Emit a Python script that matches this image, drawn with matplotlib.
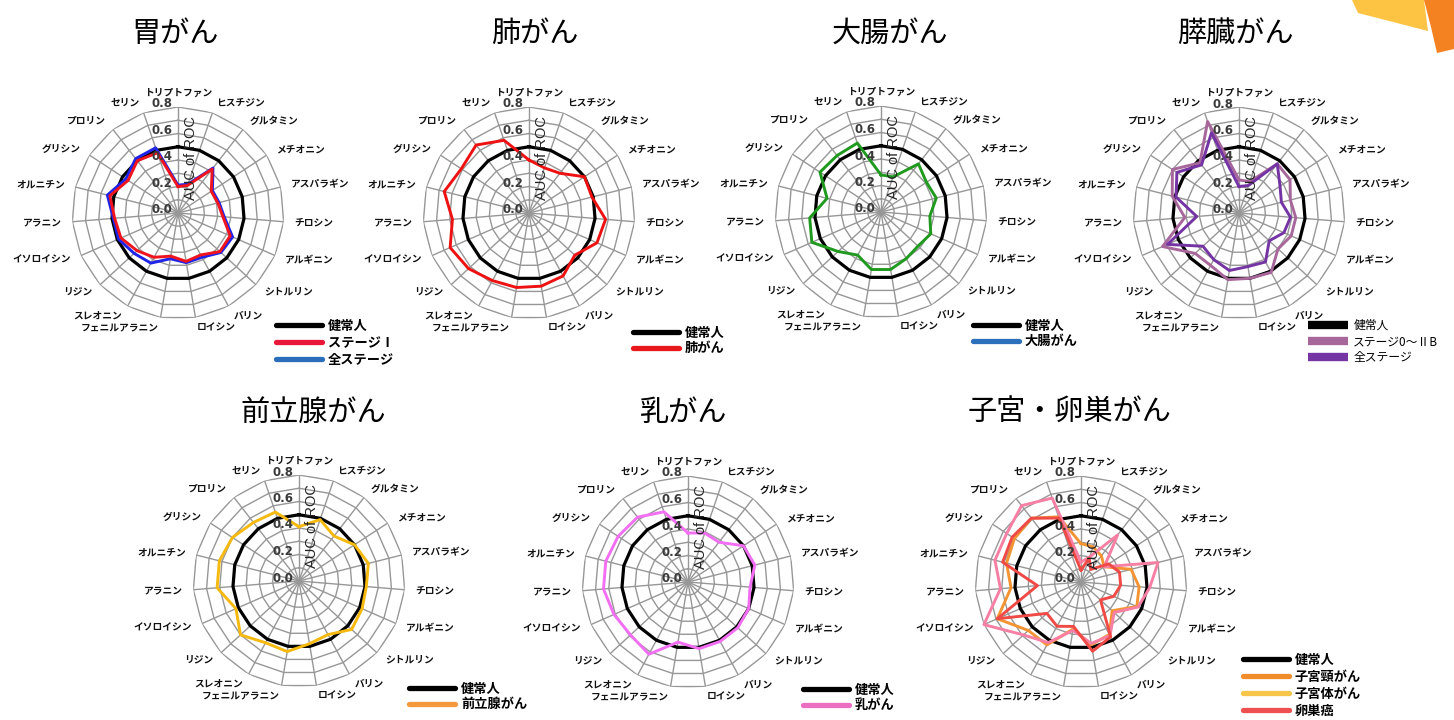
import numpy as np
import matplotlib
matplotlib.use('Agg')
import matplotlib.pyplot as plt
from matplotlib.lines import Line2D
from matplotlib.patches import Polygon
from matplotlib.transforms import offset_copy

plt.rcParams['font.family'] = ['Noto Sans CJK JP', 'DejaVu Sans']

W, H = 1454, 720

amino = ['トリプトファン', 'ヒスチジン', 'グルタミン', 'メチオニン', 'アスパラギン',
         'チロシン', 'アルギニン', 'シトルリン', 'バリン', 'ロイシン',
         'フェニルアラニン', 'スレオニン', 'リジン', 'イソロイシン', 'アラニン',
         'オルニチン', 'グリシン', 'プロリン', 'セリン']
rticks = [0.0, 0.2, 0.4, 0.6, 0.8]
rticklabels = ['0.0', '0.2', '0.4', '0.6', '0.8']

healthy = [0.5] * 19

stomach_stage1 = [0.20, 0.22, 0.42, 0.30, 0.31, 0.34, 0.43, 0.43, 0.36, 0.37,
                  0.33, 0.38, 0.42, 0.47, 0.48, 0.53, 0.45, 0.50, 0.48]
stomach_all = [0.21, 0.23, 0.43, 0.31, 0.32, 0.35, 0.45, 0.44, 0.38, 0.38,
               0.35, 0.43, 0.45, 0.49, 0.49, 0.55, 0.47, 0.52, 0.52]
lung = [0.40, 0.36, 0.38, 0.50, 0.49, 0.58, 0.56, 0.47, 0.54, 0.56,
        0.57, 0.58, 0.62, 0.65, 0.58, 0.66, 0.61, 0.65, 0.58]
colorectal = [0.28, 0.28, 0.46, 0.41, 0.43, 0.37, 0.41, 0.38, 0.40, 0.44,
              0.44, 0.37, 0.44, 0.57, 0.54, 0.42, 0.55, 0.54, 0.55]
pancreas_early = [0.25, 0.25, 0.47, 0.46, 0.40, 0.43, 0.43, 0.40, 0.51, 0.50,
                  0.51, 0.45, 0.45, 0.63, 0.41, 0.52, 0.60, 0.48, 0.73]
pancreas_all = [0.20, 0.22, 0.47, 0.37, 0.33, 0.39, 0.37, 0.31, 0.42, 0.41,
                0.44, 0.40, 0.37, 0.59, 0.32, 0.49, 0.56, 0.46, 0.64]
prostate = [0.41, 0.49, 0.43, 0.50, 0.54, 0.51, 0.52, 0.54, 0.46, 0.48,
            0.54, 0.53, 0.60, 0.52, 0.62, 0.62, 0.60, 0.56, 0.55]
breast = [0.37, 0.39, 0.38, 0.50, 0.52, 0.47, 0.50, 0.51, 0.51, 0.51,
          0.46, 0.62, 0.59, 0.61, 0.64, 0.64, 0.63, 0.62, 0.56]
cervix = [0.29, 0.28, 0.25, 0.21, 0.39, 0.44, 0.46, 0.32, 0.45, 0.48,
          0.36, 0.54, 0.54, 0.69, 0.53, 0.58, 0.60, 0.61, 0.52]
endometrium = [0.15, 0.20, 0.45, 0.21, 0.60, 0.52, 0.47, 0.34, 0.46, 0.47,
               0.37, 0.52, 0.59, 0.80, 0.61, 0.67, 0.67, 0.73, 0.67]
ovary = [0.09, 0.19, 0.12, 0.25, 0.30, 0.30, 0.27, 0.20, 0.47, 0.53,
         0.34, 0.38, 0.35, 0.69, 0.33, 0.61, 0.62, 0.61, 0.51]

R = 106  # pixel radius of the 0.8 ring
N = len(amino)
theta = np.arange(N) * 2 * np.pi / N
theta_c = np.append(theta, theta[0])

fig = plt.figure(figsize=(W / 100, H / 100), dpi=100)


def closed(v):
    return list(v) + [v[0]]


def radar(cx, cy, lines):
    ax = fig.add_axes([(cx - R) / W, 1 - (cy + R) / H, 2 * R / W, 2 * R / H],
                      projection='polar')
    ax.set_theta_zero_location('N')
    ax.set_theta_direction(-1)
    ax.set_ylim(0, 0.8)
    ax.grid(False)
    ax.set_xticks([])
    ax.set_yticks([])
    ax.spines['polar'].set_visible(False)
    ax.patch.set_alpha(0)
    # polygon rings and spokes
    for lev in np.arange(0.1, 0.81, 0.1):
        ax.plot(theta_c, [lev] * (N + 1), color='#979797', lw=1.0, zorder=1)
    for t in theta:
        ax.plot([t, t], [0, 0.8], color='#979797', lw=1.0, zorder=1)
    ax.plot(theta_c, closed(healthy), color='black', lw=2.3, zorder=3,
            clip_on=False)
    for vals, col in lines:
        ax.plot(theta_c, closed(vals), color=col, lw=2.1, zorder=4,
                clip_on=False)
    # value labels along the top spoke
    tr = offset_copy(ax.transData, fig=fig, x=-16, y=3, units='dots')
    for r, s in zip(rticks, rticklabels):
        ax.text(0, r, s, transform=tr, ha='center', va='center',
                fontsize=8.5, fontweight='bold', color='#3a3a3a',
                family='DejaVu Sans', zorder=6)
    tr2 = offset_copy(ax.transData, fig=fig, x=13, y=0, units='dots')
    ax.text(0, 0.415, 'AUC of ROC', transform=tr2, rotation=90, ha='center',
            va='center', fontsize=10.5, family='Liberation Sans',
            color='#222222', zorder=6)
    for i, (t, name) in enumerate(zip(theta, amino)):
        s = np.sin(t)
        ha = 'left' if s > 0.1 else ('right' if s < -0.1 else 'center')
        ax.text(t, 0.91 if i == 0 else 0.88, name, ha=ha, va='center',
                fontsize=7, fontweight='bold', color='#111111')
    return ax


def legend(x, y, items, bold=True, rect=False, size=9.5, spacing=0.22):
    handles = [Line2D([], [], color=c, lw=6 if rect else 3.8,
                      solid_capstyle='butt' if rect else 'round')
               for _, c in items]
    fig.legend(handles, [n for n, _ in items], loc='upper left',
               bbox_to_anchor=(x / W, 1 - y / H), frameon=False,
               borderpad=0, borderaxespad=0,
               handlelength=(40 if rect else 46) / (size * 100 / 72),
               handletextpad=0.45, labelspacing=spacing,
               prop={'size': size, 'weight': 'bold' if bold else 'normal'})


titles = [('胃がん', 175, 34), ('肺がん', 535, 34), ('大腸がん', 890, 34),
          ('膵臓がん', 1235, 34), ('前立腺がん', 313, 413), ('乳がん', 684, 413),
          ('子宮・卵巣がん', 1070, 413)]
for s, x, y in titles:
    fig.text(x / W, 1 - y / H, s, ha='center', va='center', fontsize=21)

radar(178, 213, [(stomach_all, '#1f24e8'), (stomach_stage1, '#f0141e')])
legend(276, 319, [('健常人', 'black'), ('ステージⅠ', '#e8173a'), ('全ステージ', '#2a6ebb')])

radar(529, 213, [(lung, '#ee1111')])
legend(633, 326, [('健常人', 'black'), ('肺がん', '#e8171b')], spacing=0.1)

radar(881, 212, [(colorectal, '#1f9a1f')])
legend(973, 319, [('健常人', 'black'), ('大腸がん', '#2c6fbb')], spacing=0.1)

radar(1239, 213, [(pancreas_early, '#a7679b'), (pancreas_all, '#7434a4')])
legend(1308, 319, [('健常人', 'black'), ('ステージ0～ⅡB', '#a7679b'),
                   ('全ステージ', '#7434a4')], bold=False, rect=True,
       size=8.5, spacing=0.25)

radar(299, 581, [(prostate, '#f5b90f')])
legend(409, 682, [('健常人', 'black'), ('前立腺がん', '#f59a3c')], spacing=0.1)

radar(688, 582, [(breast, '#f26ef2')])
legend(803, 683, [('健常人', 'black'), ('乳がん', '#ea6fc0')], spacing=0.1)

radar(1081, 582, [(cervix, '#f39433'), (endometrium, '#f67fa3'), (ovary, '#ef4a46')])
legend(1243, 653, [('健常人', 'black'), ('子宮頸がん', '#f08c2a'),
                   ('子宮体がん', '#f6c54a'), ('卵巣癌', '#ee5050')])

# corner decoration
for pts, col in [([(1352, 0), (1358, 13), (1428, 31), (1424, 0)], '#fdc444'),
                 ([(1424, 0), (1431, 27), (1437, 53), (1454, 49), (1454, 0)], '#f58220')]:
    xy = [(px / W, 1 - py / H) for px, py in pts]
    fig.add_artist(Polygon(xy, closed=True, transform=fig.transFigure,
                           facecolor=col, edgecolor='none'))

fig.savefig('out.png', dpi=100)
